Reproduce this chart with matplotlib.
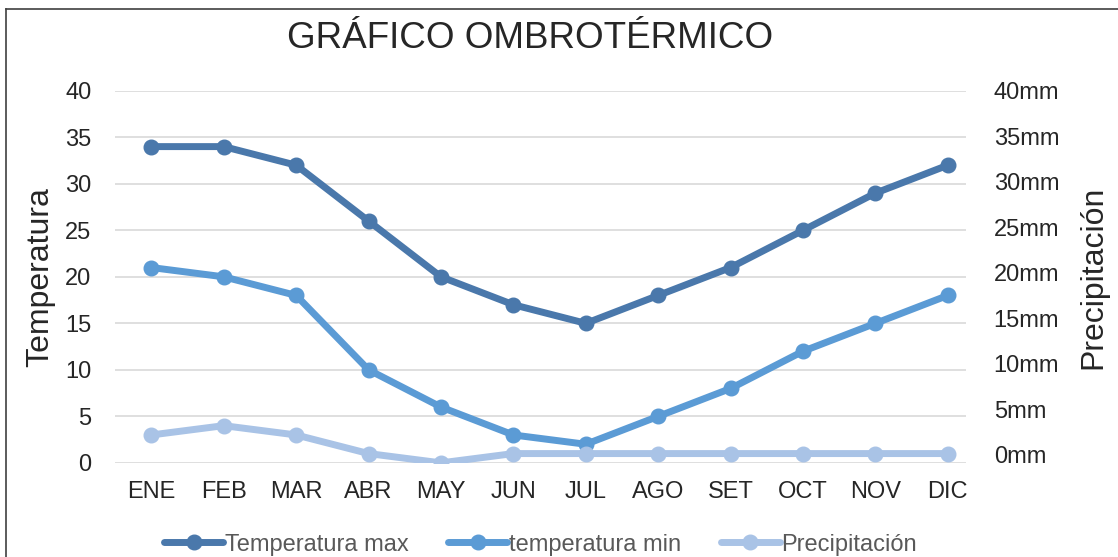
import numpy as np
import matplotlib.pyplot as plt
from matplotlib.lines import Line2D

plt.rcParams['font.family'] = ['Liberation Sans', 'DejaVu Sans']

meses = ['ENE', 'FEB', 'MAR', 'ABR', 'MAY', 'JUN', 'JUL', 'AGO', 'SET', 'OCT', 'NOV', 'DIC']
temp_max = [34, 34, 32, 26, 20, 17, 15, 18, 21, 25, 29, 32]
temp_min = [21, 20, 18, 10, 6, 3, 2, 5, 8, 12, 15, 18]
precip = [3, 4, 3, 1, 0, 1, 1, 1, 1, 1, 1, 1]
ticks_izq = [0, 5, 10, 15, 20, 25, 30, 35, 40]
ticks_der = [0, 5, 10, 15, 20, 25, 30, 35, 40]

c_max = '#4a78ab'
c_min = '#5b9bd5'
c_pre = '#a9c3e6'
texto = '#262626'

fig = plt.figure(figsize=(11.18, 5.57), dpi=100)
ax = fig.add_axes([0.103, 0.169, 0.761, 0.668])

x = np.arange(len(meses))
kw = dict(lw=5, marker='o', ms=10.5, solid_capstyle='round')
ax.plot(x, temp_max, color=c_max, label='Temperatura max', **kw)
ax.plot(x, temp_min, color=c_min, label='temperatura min', **kw)
ax.plot(x, precip, color=c_pre, label='Precipitación', **kw)

ax.set_xlim(-0.5, 11.25)
ax.set_ylim(0, 40)
ax.set_yticks(ticks_izq)
ax.set_xticks(x)
ax.set_xticklabels(meses)
ax.grid(axis='y', color='#d9d9d9', lw=1.2)
ax.set_axisbelow(True)
for s in ax.spines.values():
    s.set_visible(False)
ax.tick_params(length=0, labelsize=17, colors=texto, pad=13)
ax.tick_params(axis='y', pad=17)
ax.set_ylabel('Temperatura', fontsize=23, color=texto, labelpad=7)

# eje derecho de precipitación
ax2 = ax.twinx()
ax2.set_ylim(-0.87, 39.57)
ax2.set_yticks(ticks_der)
ax2.set_yticklabels([f'{t}mm' for t in ticks_der])
for s in ax2.spines.values():
    s.set_visible(False)
ax2.tick_params(length=0, labelsize=17, colors=texto, pad=20)
ax2.set_ylabel('Precipitación', fontsize=23, color=texto, labelpad=14)

fig.text(0.474, 0.93, 'GRÁFICO OMBROTÉRMICO', fontsize=26.5, color=texto,
         ha='center', va='center')

leg = ax.legend(loc='center', bbox_to_anchor=(0.5, -0.22), ncol=3, frameon=False,
                fontsize=17, handlelength=2.5, handletextpad=0.05,
                columnspacing=1.7, labelcolor='#595959')

# marco superior e izquierdo
fig.lines.append(Line2D([6 / 1118, 1], [1 - 9 / 557] * 2, transform=fig.transFigure,
                        color='#404040', lw=1.2))
fig.lines.append(Line2D([6 / 1118] * 2, [0, 1 - 9 / 557], transform=fig.transFigure,
                        color='#404040', lw=1.2))

fig.savefig('out.png', dpi=100)
